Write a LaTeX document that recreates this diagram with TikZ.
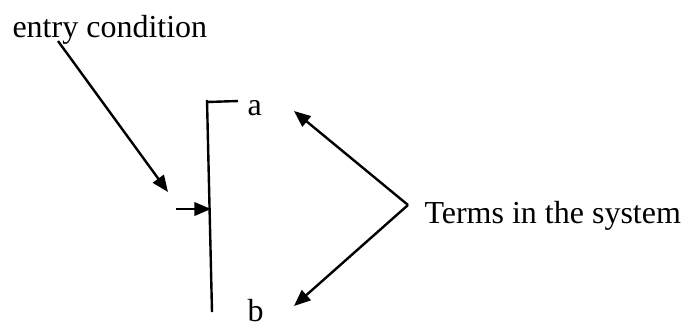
\documentclass[tikz,border=0pt]{standalone}
\usepackage{fontspec}
\setmainfont{Liberation Serif}
\usepackage{tikz}
\usetikzlibrary{arrows.meta, calc}
\tikzset{
  lbl/.style={inner sep=0pt, font=\fontsize{12pt}{14pt}\selectfont},
  bar/.style={line width=0.9pt},
  ar/.style={-{Triangle[length=6.2pt, width=5pt]}, line width=0.9pt},
}
\begin{document}
\begin{tikzpicture}[x=0.375pt, y=-0.375pt]
  \useasboundingbox (0,0) rectangle (684,327);
  % labels
  \node[lbl, anchor=base west] (entry) at (12,37) {entry condition};
  \node[lbl, anchor=base west] (a) at (247,115) {a};
  \node[lbl, anchor=base west] (b) at (247,321) {b};
  \node[lbl, anchor=base west] (terms) at (424,223) {Terms in the system};

  % the bar with its tick towards a
  \coordinate (bartop) at (207,100);
  \coordinate (barbot) at (212,312);
  \coordinate (tick) at (238,101);
  \draw[bar] (tick) -- ($(bartop)+(0,2)$) -- (bartop) -- (barbot);

  % entry condition pointing down to the short arrow
  \coordinate (etail) at (58,41);
  \coordinate (ehead) at (168,192);
  \coordinate (intail) at (176,209);
  \coordinate (inhead) at (211,209);
  \draw[ar] (etail) -- (ehead);
  \draw[ar] (intail) -- (inhead);

  % terms -> a and b
  \coordinate (fork) at (408,205);
  \coordinate (ahead) at (294,111);
  \coordinate (bhead) at (294,306);
  \draw[ar] (fork) -- (ahead);
  \draw[ar] (fork) -- (bhead);
\end{tikzpicture}
\end{document}
